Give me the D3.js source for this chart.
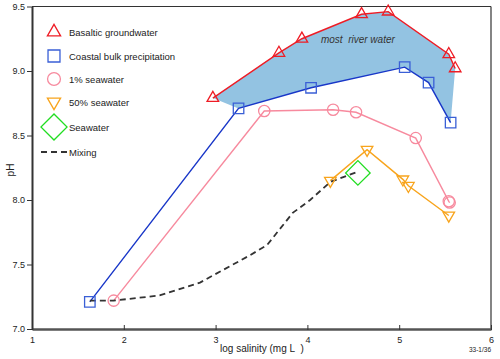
<!DOCTYPE html>
<html>
<head>
<meta charset="utf-8">
<script src="https://cdn.jsdelivr.net/npm/d3@7"></script>
<style>
  body { margin: 0; background: #fff; }
  svg { display: block; font-family: "Liberation Sans", Arial, sans-serif; }
</style>
</head>
<body>
<div id="chart"></div>
<script>
// data: [log salinity, pH]
const basaltic = [[2.97, 8.79], [3.69, 9.14], [3.94, 9.25], [4.59, 9.44], [4.88, 9.46], [5.54, 9.13], [5.61, 9.02]];
const coastal = [[1.63, 7.21], [3.25, 8.71], [4.04, 8.87], [5.06, 9.03], [5.32, 8.91], [5.56, 8.60]];
const seawater1 = [[1.89, 7.22], [3.53, 8.69], [4.28, 8.70], [4.53, 8.68], [5.18, 8.48], [5.54, 7.99], [5.55, 7.98]];
const seawater50 = [[4.25, 8.15], [4.65, 8.39], [5.04, 8.16], [5.10, 8.11], [5.54, 7.88]];
const seawater = [[4.55, 8.21]];
const mixing = [[1.63, 7.22], [1.89, 7.22], [2.39, 7.26], [2.83, 7.36], [3.37, 7.57], [3.56, 7.65], [3.84, 7.90], [4.03, 8.00], [4.25, 8.14], [4.55, 8.22]];

const xTicks = [1, 2, 3, 4, 5, 6];
const yTicks = [7.0, 7.5, 8.0, 8.5, 9.0, 9.5];

const width = 500, height = 359;
const margin = {left: 32, right: 9, top: 6.5, bottom: 30};

const svg = d3.select("#chart").append("svg")
    .attr("width", width)
    .attr("height", height);

const x = d3.scaleLinear().domain([1, 6]).range([margin.left, width - margin.right]);
const y = d3.scaleLinear().domain([7, 9.5]).range([height - margin.bottom, margin.top]);

const line = d3.line().x(d => x(d[0])).y(d => y(d[1]));

/* shaded band between groundwater and precipitation */
const band = basaltic.concat(coastal.slice(1).reverse());
svg.append("path")
    .attr("d", line(band) + "Z")
    .attr("fill", "#93c3e2");

svg.append("text")
    .attr("x", x(4.55))
    .attr("y", y(9.22))
    .attr("text-anchor", "middle")
    .attr("font-size", 10)
    .attr("font-style", "italic")
    .attr("fill", "#333")
    .text("most\u00a0 river water");

/* frame */
svg.append("line")
    .attr("x1", x(1)).attr("x2", x(6)).attr("y1", y(9.5)).attr("y2", y(9.5))
    .attr("stroke", "#333").attr("stroke-width", 1.2);
svg.append("line")
    .attr("x1", x(6)).attr("x2", x(6)).attr("y1", y(9.5)).attr("y2", y(7))
    .attr("stroke", "#333").attr("stroke-width", 1.2);

/* axes */
const xAxis = svg.append("g")
    .attr("transform", `translate(0, ${y(7)})`)
    .call(d3.axisBottom(x).tickValues(xTicks).tickSizeInner(-5).tickSizeOuter(0).tickPadding(8).tickFormat(d3.format("d")));
xAxis.select(".domain").attr("stroke", "#555").attr("stroke-width", 2.5);
xAxis.selectAll(".tick line").attr("stroke", "#333").attr("transform", "translate(0,1)");
xAxis.selectAll("text").attr("font-size", 9).attr("fill", "#222").attr("font-family", null);

const yAxis = svg.append("g")
    .attr("transform", `translate(${x(1)}, 0)`)
    .call(d3.axisLeft(y).tickValues(yTicks).tickSizeInner(5).tickSizeOuter(0).tickPadding(2).tickFormat(d3.format(".1f")));
yAxis.select(".domain").attr("stroke", "#333").attr("stroke-width", 2);
yAxis.selectAll(".tick line").attr("stroke", "#333");
yAxis.selectAll("text").attr("font-size", 9).attr("fill", "#222").attr("font-family", null);

svg.append("text")
    .attr("transform", `translate(14, 170) rotate(-90)`)
    .attr("text-anchor", "middle")
    .attr("font-size", 10)
    .attr("fill", "#222")
    .text("pH");

svg.append("text")
    .attr("x", 262)
    .attr("y", 352)
    .attr("text-anchor", "middle")
    .attr("font-size", 10)
    .attr("fill", "#222")
    .text("log salinity (mg L\u00a0\u00a0)");

svg.append("text")
    .attr("x", 491)
    .attr("y", 352)
    .attr("text-anchor", "end")
    .attr("font-size", 6.5)
    .attr("fill", "#222")
    .text("33-1/36");

/* series */
const series = [
    {name: "Basaltic groundwater", data: basaltic, color: "#ee1c25", line: "#ee1c25", sym: d3.symbolTriangle, size: 58, rot: 0},
    {name: "Coastal bulk precipitation", data: coastal, color: "#3a5fd6", line: "#1836c8", sym: d3.symbolSquare, size: 110, rot: 0},
    {name: "1% seawater", data: seawater1, color: "#f78a9e", line: "#f78a9e", sym: d3.symbolCircle, size: 100, rot: 0},
    {name: "50% seawater", data: seawater50, color: "#f8a41c", line: "#f8a41c", sym: d3.symbolTriangle, size: 58, rot: 180},
    {name: "Seawater", data: seawater, color: "#22dd22", line: null, sym: d3.symbolSquare, size: 300, rot: 45}
];

series.forEach(s => {
    if (s.line) {
        svg.append("path")
            .attr("d", line(s.data))
            .attr("fill", "none")
            .attr("stroke", s.line)
            .attr("stroke-width", 1.4);
    }
});

svg.append("path")
    .attr("d", line(mixing))
    .attr("fill", "none")
    .attr("stroke", "#333")
    .attr("stroke-width", 1.8)
    .attr("stroke-dasharray", "6,4");

series.forEach(s => {
    svg.append("g").selectAll("path")
        .data(s.data)
        .join("path")
        .attr("d", d3.symbol().type(s.sym).size(s.size))
        .attr("transform", d => `translate(${x(d[0])}, ${y(d[1])}) rotate(${s.rot})`)
        .attr("fill", "none")
        .attr("stroke", s.color)
        .attr("stroke-width", 1.3);
});

/* legend */
const legendY = [32, 56, 79, 102, 127];
const legend = svg.append("g");
series.forEach((s, i) => {
    legend.append("path")
        .attr("d", d3.symbol().type(s.sym).size(s.name === "Seawater" ? 340 : s.size * 1.3)())
        .attr("transform", `translate(54, ${legendY[i]}) rotate(${s.rot})`)
        .attr("fill", "none")
        .attr("stroke", s.color)
        .attr("stroke-width", 1.3);
    legend.append("text")
        .attr("x", 69)
        .attr("y", legendY[i] + 3.5)
        .attr("font-size", 9.5)
        .attr("fill", "#222")
        .text(s.name);
});
legend.append("line")
    .attr("x1", 41).attr("x2", 67).attr("y1", 152).attr("y2", 152)
    .attr("stroke", "#333").attr("stroke-width", 1.8).attr("stroke-dasharray", "6,4");
legend.append("text")
    .attr("x", 69).attr("y", 155.5)
    .attr("font-size", 9.5).attr("fill", "#222")
    .text("Mixing");
</script>
</body>
</html>
